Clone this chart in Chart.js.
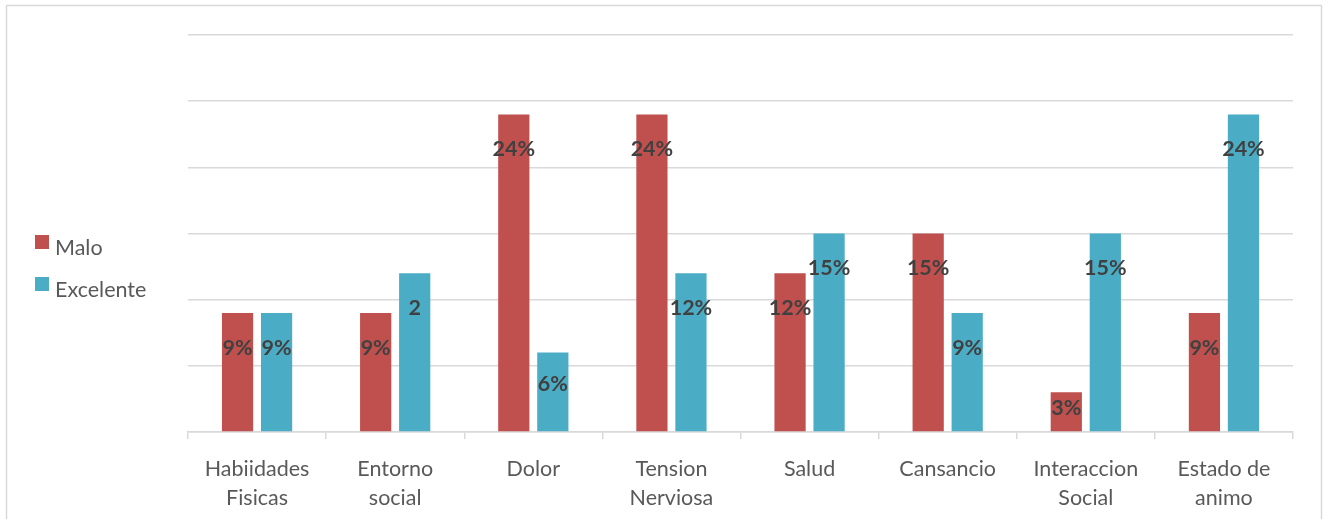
<!DOCTYPE html>
<html>
<head>
<meta charset="utf-8">
<script src="https://cdn.jsdelivr.net/npm/chart.js@4.4.1/dist/chart.umd.min.js"></script>
<style>
  html, body { margin: 0; padding: 0; background: #fff; }
  #wrap { width: 1328px; height: 519px; position: relative; }
</style>
</head>
<body>
<div id="wrap"><canvas id="chart" width="1328" height="519"></canvas></div>
<script>
var categories = [["Habiidades", "Fisicas"], ["Entorno", "social"], "Dolor", ["Tension", "Nerviosa"], "Salud", "Cansancio", ["Interaccion", "Social"], ["Estado de", "animo"]];
var seriesNames = ["Malo", "Excelente"];
var malo = [9, 9, 24, 24, 12, 15, 3, 9];
var excelente = [9, 12, 6, 12, 15, 9, 15, 24];
var maloLabels = ["9%", "9%", "24%", "24%", "12%", "15%", "3%", "9%"];
var excelenteLabels = ["9%", "2", "6%", "12%", "15%", "9%", "15%", "24%"];
var yTicks = [0, 5, 10, 15, 20, 25, 30];

var colors = ["#C0504D", "#4BACC6"];
var textFont = "Lato, 'Open Sans', sans-serif";

// labels inside the top of each bar
var barLabels = {
  id: "barLabels",
  afterDatasetsDraw: function(chart) {
    var ctx = chart.ctx;
    var texts = [maloLabels, excelenteLabels];
    ctx.save();
    ctx.font = "bold 21.5px " + textFont;
    ctx.fillStyle = "#404040";
    ctx.textAlign = "center";
    ctx.textBaseline = "middle";
    chart.data.datasets.forEach(function(ds, i) {
      chart.getDatasetMeta(i).data.forEach(function(bar, j) {
        var h = bar.base - bar.y;
        var off = Math.min(35, h * 0.4);
        ctx.fillText(texts[i][j], bar.x, bar.y + off);
      });
    });
    ctx.restore();
  }
};

// outer frame + legend on the left
var frameLegend = {
  id: "frameLegend",
  beforeDraw: function(chart) {
    var ctx = chart.ctx;
    ctx.save();
    ctx.strokeStyle = "#d9d9d9";
    ctx.lineWidth = 1.5;
    ctx.strokeRect(6.5, 5.5, 1315, 530);
    ctx.restore();
  },
  afterDraw: function(chart) {
    var ctx = chart.ctx;
    ctx.save();
    ctx.font = "21.5px " + textFont;
    ctx.textBaseline = "middle";
    ctx.textAlign = "left";
    seriesNames.forEach(function(name, i) {
      var y = 248 + i * 42;
      ctx.fillStyle = colors[i];
      ctx.fillRect(35, y - 13, 14, 14);
      ctx.fillStyle = "#595959";
      ctx.fillText(name, 55, y);
    });
    ctx.restore();
  }
};

new Chart(document.getElementById("chart"), {
  type: "bar",
  data: {
    labels: categories,
    datasets: [
      { label: seriesNames[0], data: malo, backgroundColor: colors[0] },
      { label: seriesNames[1], data: excelente, backgroundColor: colors[1] }
    ]
  },
  options: {
    responsive: false,
    animation: false,
    categoryPercentage: 0.565,
    barPercentage: 0.8,
    layout: { padding: { left: 188, right: 35, top: 35, bottom: 0 } },
    plugins: {
      legend: { display: false },
      tooltip: { enabled: false }
    },
    scales: {
      x: {
        offset: true,
        grid: { offset: true, drawOnChartArea: false, drawTicks: true, tickLength: 7, color: "#d9d9d9", lineWidth: 1.5 },
        border: { color: "#d9d9d9", width: 1.5 },
        ticks: { color: "#595959", font: { family: textFont, size: 21.5, lineHeight: 1.35 }, padding: 16, maxRotation: 0, autoSkip: false },
        afterFit: function(scale) { scale.height = 87; }
      },
      y: {
        min: 0,
        max: 30,
        afterBuildTicks: function(scale) { scale.ticks = yTicks.map(function(v) { return { value: v }; }); },
        grid: { color: "#d9d9d9", lineWidth: 1.5, drawTicks: false },
        border: { display: false },
        ticks: { display: false },
        afterFit: function(scale) { scale.width = 0; }
      }
    }
  },
  plugins: [barLabels, frameLegend]
});
</script>
</body>
</html>
